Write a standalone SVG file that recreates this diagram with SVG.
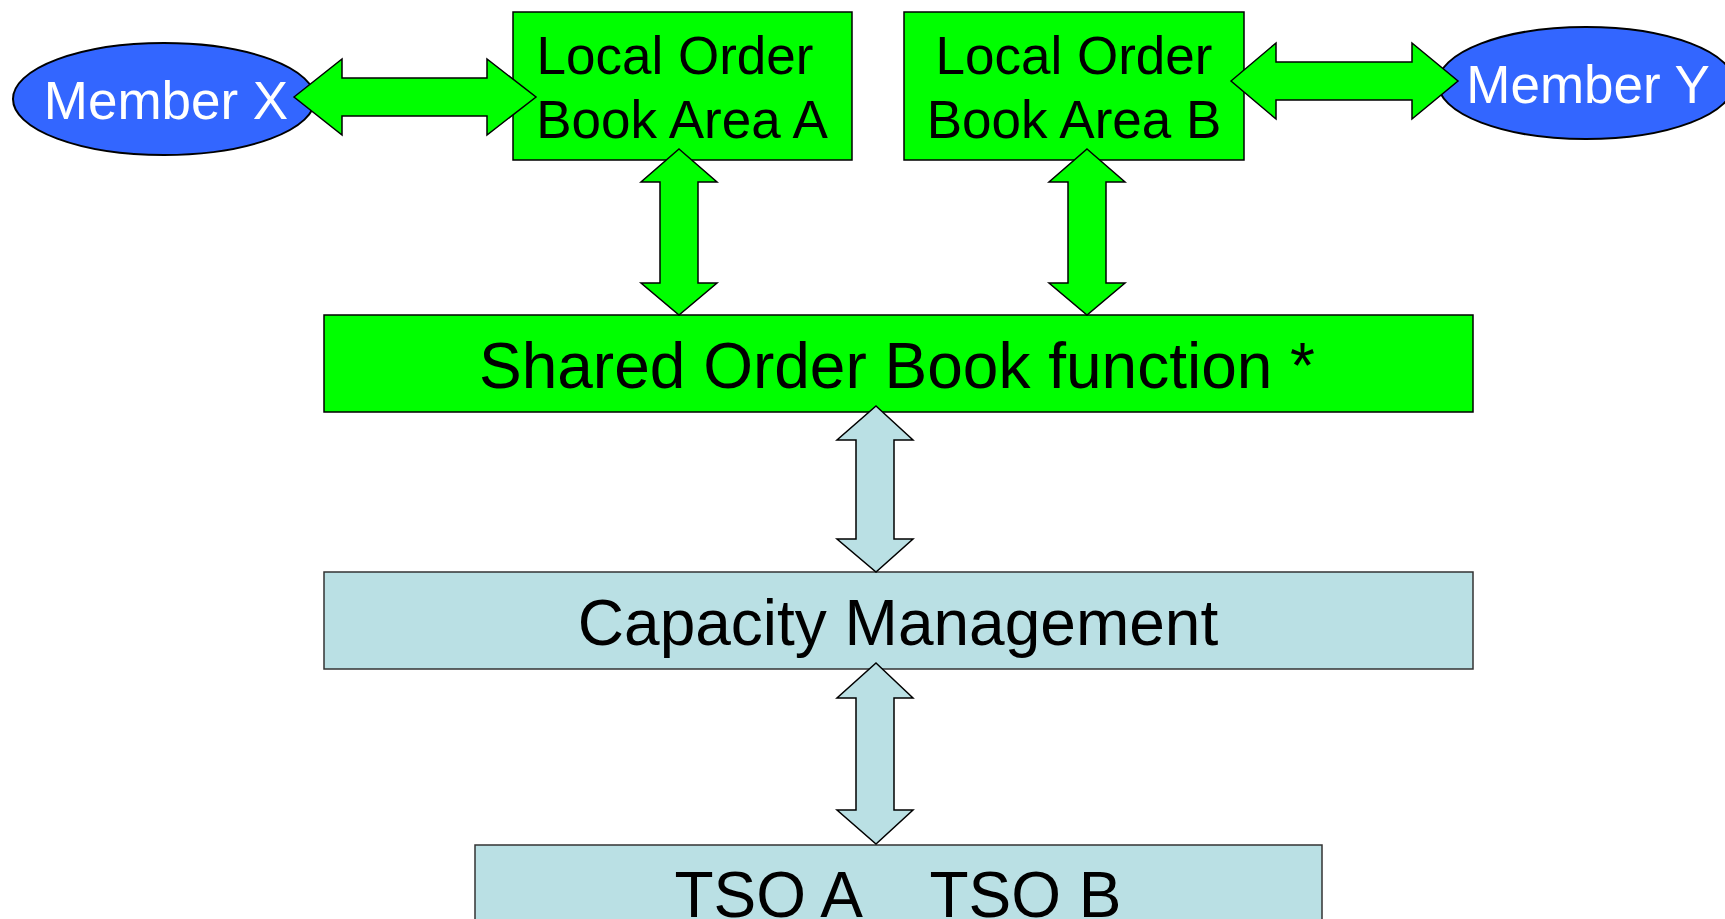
<svg xmlns="http://www.w3.org/2000/svg" width="1725" height="919" viewBox="0 0 1725 919">
<style>
.green{fill:#00FF00;stroke:#000;stroke-width:1.5}
.blue{fill:#3366FF;stroke:#000;stroke-width:2}
.lb{fill:#BAE0E4;stroke:#333;stroke-width:1.5}
.t{font-family:"Liberation Sans",Arial,sans-serif;fill:#000;text-anchor:middle}
.w{font-family:"Liberation Sans",Arial,sans-serif;fill:#fff;text-anchor:middle}
.ga{fill:#00FF00;stroke:#000;stroke-width:1.5;stroke-linejoin:miter}
.ba{fill:#BAE0E4;stroke:#000;stroke-width:1.5;stroke-linejoin:miter}
</style>
<rect width="1725" height="919" fill="#fff"/>
<g id="memberX">
<ellipse class="blue" cx="164" cy="99" rx="151" ry="56"/>
<text class="w" x="166" y="119" font-size="53">Member X</text>
</g>
<g id="memberY">
<ellipse class="blue" cx="1586" cy="83" rx="148" ry="56"/>
<text class="w" x="1588" y="103" font-size="53">Member Y</text>
</g>
<g id="localA">
<rect class="green" x="513" y="12" width="339" height="148"/>
<text class="t" font-size="53"><tspan x="675" y="74">Local Order</tspan><tspan x="682" y="138">Book Area A</tspan></text>
</g>
<g id="localB">
<rect class="green" x="904" y="12" width="340" height="148"/>
<text class="t" font-size="53"><tspan x="1074" y="74">Local Order</tspan><tspan x="1074" y="138">Book Area B</tspan></text>
</g>
<g id="shared">
<rect class="green" x="324" y="315" width="1149" height="97"/>
<text class="t" x="897" y="388" font-size="64">Shared Order Book function *</text>
</g>
<g id="capacity">
<rect class="lb" x="324" y="572" width="1149" height="97"/>
<text class="t" x="898" y="645" font-size="64">Capacity Management</text>
</g>
<g id="tso">
<rect class="lb" x="475" y="845" width="847" height="90"/>
<text class="t" x="898" y="917" font-size="64" xml:space="preserve" style="white-space:pre">TSO A    TSO B</text>
</g>
<g id="connectors">
<path class="ga" d="M294,97 L342,59 L342,78 L487,78 L487,59 L536,97 L487,135 L487,116 L342,116 L342,135 Z"/>
<path class="ga" d="M1231,81 L1276,43 L1276,62 L1412,62 L1412,43 L1458,81 L1412,119 L1412,100 L1276,100 L1276,119 Z"/>
<path class="ga" d="M679,149 L717,182 L698,182 L698,283 L717,283 L679,315 L641,283 L660,283 L660,182 L641,182 Z"/>
<path class="ga" d="M1087,149 L1125,182 L1106,182 L1106,283 L1125,283 L1087,315 L1049,283 L1068,283 L1068,182 L1049,182 Z"/>
<path class="ba" d="M876,406 L913,440 L894,440 L894,539 L913,539 L876,572 L837,539 L856,539 L856,440 L837,440 Z"/>
<path class="ba" d="M876,663 L913,698 L894,698 L894,810 L913,810 L876,844 L837,810 L856,810 L856,698 L837,698 Z"/>
</g>
</svg>
